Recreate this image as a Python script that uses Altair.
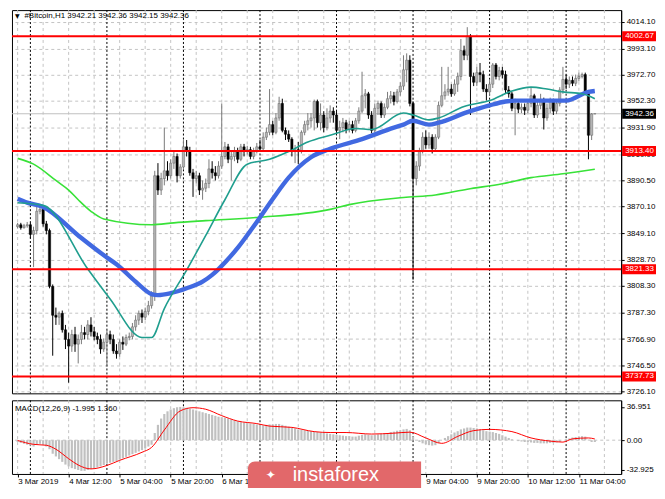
import altair as alt
import pandas as pd

# ---------------- data ----------------
bar_open = [
3854.4, 3855.9, 3853.6, 3855.1, 3855.9, 3848.4, 3851.4, 3866.4, 3867.9, 3856.6,
3851.4, 3807.9, 3785.4, 3783.9, 3786.9, 3774.1, 3766.6, 3761.4, 3770.4, 3762.9,
3766.6, 3771.9, 3770.4, 3777.9, 3772.6, 3768.9, 3766.6, 3759.1, 3764.4, 3770.4,
3766.6, 3757.6, 3755.4, 3764.4, 3762.9, 3768.1, 3768.9, 3776.4, 3781.6, 3786.9,
3783.9, 3788.4, 3792.9, 3800.4, 3894.1, 3882.9, 3891.9, 3897.9, 3894.1, 3903.9,
3909.1, 3894.1, 3900.9, 3916.6, 3912.9, 3896.4, 3891.9, 3894.1, 3882.9, 3884.4,
3888.1, 3899.4, 3896.4, 3894.1, 3901.6, 3909.1, 3916.6, 3906.9, 3909.1, 3912.9,
3906.9, 3916.6, 3912.9, 3914.4, 3909.1, 3912.9, 3916.6, 3915.1, 3924.1, 3927.9,
3933.9, 3927.9, 3939.1, 3950.4, 3929.4, 3926.4, 3922.6, 3912.9, 3914.4, 3912.9,
3927.9, 3933.9, 3936.9, 3939.1, 3951.9, 3935.4, 3941.4, 3931.6, 3939.1, 3944.4,
3941.4, 3929.4, 3931.6, 3935.4, 3930.1, 3933.9, 3929.4, 3936.9, 3944.4, 3956.4,
3957.9, 3941.4, 3929.4, 3946.6, 3950.4, 3941.4, 3947.4, 3954.1, 3956.4, 3951.9,
3959.4, 3963.9, 3976.6, 3984.1, 3950.4, 3891.9, 3901.6, 3912.9, 3924.1, 3918.1,
3924.1, 3915.1, 3924.1, 3948.9, 3956.4, 3959.4, 3961.6, 3957.9, 3965.4, 3971.4,
3991.6, 3987.9, 4002.9, 3971.4, 3966.9, 3974.4, 3972.9, 3961.6, 3959.4, 3965.4,
3980.4, 3971.4, 3975.9, 3972.9, 3960.9, 3957.9, 3946.6, 3950.4, 3945.9, 3947.4,
3945.1, 3950.4, 3956.4, 3941.4, 3948.9, 3953.4, 3939.1, 3946.6, 3952.6, 3944.4,
3950.4, 3960.9, 3969.1, 3965.4, 3968.4, 3966.1, 3969.9, 3971.4, 3972.9, 3959.4,
3925.6, 3942.21]

bar_high = [
3857.4, 3857.4, 3856.6, 3858.1, 3857.4, 3854.4, 3870.1, 3870.9, 3869.4, 3858.9,
3852.9, 3809.4, 3791.4, 3788.4, 3789.1, 3777.9, 3771.9, 3774.1, 3776.4, 3770.4,
3777.9, 3776.4, 3781.6, 3783.9, 3776.4, 3771.9, 3770.4, 3767.4, 3774.1, 3773.4,
3770.4, 3762.9, 3766.6, 3768.9, 3770.4, 3771.9, 3779.4, 3785.4, 3789.1, 3789.9,
3791.4, 3796.6, 3804.1, 3897.9, 3903.9, 3896.4, 3931.6, 3905.4, 3906.9, 3912.9,
3911.4, 3903.1, 3921.9, 3921.9, 3916.6, 3899.4, 3897.9, 3896.4, 3890.4, 3891.9,
3906.9, 3905.4, 3901.6, 3905.4, 3950.4, 3920.4, 3918.9, 3912.9, 3916.6, 3915.9,
3918.9, 3918.9, 3917.4, 3916.6, 3915.9, 3919.6, 3921.9, 3927.9, 3931.6, 3961.6,
3936.9, 3942.9, 3955.6, 3954.1, 3931.6, 3929.4, 3924.1, 3918.1, 3920.4, 3929.4,
3936.9, 3942.9, 3942.9, 3953.4, 3953.4, 3950.4, 3944.4, 3946.6, 3948.9, 3947.4,
3944.4, 3936.9, 3939.1, 3937.6, 3936.9, 3936.9, 3939.1, 3947.4, 3975.1, 3961.6,
3959.4, 3944.4, 3950.4, 3952.6, 3951.9, 3950.4, 3959.4, 3960.1, 3959.4, 3961.6,
3966.9, 3987.9, 3989.4, 3987.9, 3951.9, 3905.4, 3915.9, 3927.9, 3929.4, 3927.9,
3926.4, 3926.4, 3951.9, 3978.9, 3965.4, 3978.9, 3965.4, 3969.1, 3974.4, 4000.6,
3995.4, 4009.8, 4004.4, 3974.4, 3978.9, 3981.9, 3975.9, 3965.4, 3969.1, 3981.9,
3981.9, 3978.9, 3978.9, 3975.9, 3963.9, 3959.4, 3954.1, 3952.6, 3950.4, 3950.4,
3953.4, 3962.4, 3957.9, 3951.9, 3957.9, 3954.9, 3950.4, 3954.9, 3954.1, 3953.4,
3963.1, 3978.9, 3972.9, 3971.4, 3971.4, 3972.9, 3974.4, 3974.4, 3974.4, 3960.9,
3942.9, 3942.36]

bar_low = [
3852.9, 3852.1, 3852.9, 3853.6, 3845.4, 3822.9, 3848.4, 3864.1, 3854.4, 3848.4,
3806.4, 3753.9, 3777.9, 3777.9, 3771.9, 3759.1, 3732.9, 3756.9, 3756.9, 3747.9,
3762.9, 3766.6, 3766.6, 3768.9, 3765.9, 3762.9, 3755.4, 3756.9, 3745.6, 3762.9,
3755.4, 3751.6, 3753.1, 3758.4, 3761.4, 3765.9, 3766.6, 3773.4, 3777.9, 3779.4,
3781.6, 3785.4, 3790.6, 3796.6, 3879.1, 3879.1, 3886.6, 3890.4, 3891.9, 3899.4,
3888.9, 3891.9, 3899.4, 3909.1, 3894.1, 3877.6, 3888.1, 3879.1, 3875.4, 3881.4,
3884.4, 3891.9, 3890.4, 3891.9, 3899.4, 3906.9, 3903.9, 3890.4, 3905.4, 3903.9,
3905.4, 3909.1, 3910.6, 3906.9, 3906.9, 3911.4, 3912.9, 3912.9, 3921.9, 3925.6,
3925.6, 3926.4, 3936.9, 3927.9, 3921.9, 3920.4, 3909.1, 3903.9, 3903.1, 3911.4,
3925.6, 3929.4, 3931.6, 3929.4, 3931.6, 3929.4, 3927.9, 3929.4, 3935.4, 3935.4,
3926.4, 3922.6, 3927.9, 3927.1, 3927.9, 3927.1, 3927.9, 3934.6, 3942.9, 3946.6,
3938.4, 3927.1, 3927.9, 3941.4, 3939.1, 3939.1, 3945.9, 3950.4, 3948.9, 3950.4,
3956.4, 3960.9, 3966.9, 3948.1, 3813.1, 3886.6, 3897.9, 3911.4, 3915.1, 3915.1,
3911.4, 3912.9, 3922.6, 3947.4, 3953.4, 3956.4, 3955.6, 3956.4, 3959.4, 3968.4,
3984.1, 3984.1, 3941.4, 3963.9, 3963.9, 3966.9, 3959.4, 3952.6, 3956.4, 3962.4,
3969.1, 3968.4, 3969.9, 3957.9, 3954.9, 3944.4, 3925.6, 3942.9, 3942.9, 3941.4,
3942.9, 3947.4, 3939.1, 3939.1, 3945.9, 3930.1, 3936.9, 3942.9, 3941.4, 3942.1,
3948.1, 3957.9, 3961.6, 3962.4, 3963.9, 3963.9, 3967.6, 3969.9, 3957.9, 3906.9,
3921.9, 3942.15]

bar_close = [
3855.9, 3853.6, 3855.1, 3855.9, 3848.4, 3851.4, 3866.4, 3867.9, 3856.6, 3851.4,
3807.9, 3785.4, 3783.9, 3786.9, 3774.1, 3766.6, 3761.4, 3770.4, 3762.9, 3766.6,
3771.9, 3770.4, 3777.9, 3772.6, 3768.9, 3766.6, 3759.1, 3764.4, 3770.4, 3766.6,
3757.6, 3755.4, 3764.4, 3762.9, 3768.1, 3768.9, 3776.4, 3781.6, 3786.9, 3783.9,
3788.4, 3792.9, 3800.4, 3894.1, 3882.9, 3891.9, 3897.9, 3894.1, 3903.9, 3909.1,
3894.1, 3900.9, 3916.6, 3912.9, 3896.4, 3891.9, 3894.1, 3882.9, 3884.4, 3888.1,
3899.4, 3896.4, 3894.1, 3901.6, 3909.1, 3916.6, 3906.9, 3909.1, 3912.9, 3906.9,
3916.6, 3912.9, 3914.4, 3909.1, 3912.9, 3916.6, 3915.1, 3924.1, 3927.9, 3933.9,
3927.9, 3939.1, 3950.4, 3929.4, 3926.4, 3922.6, 3912.9, 3914.4, 3912.9, 3927.9,
3933.9, 3936.9, 3939.1, 3951.9, 3935.4, 3941.4, 3931.6, 3939.1, 3944.4, 3941.4,
3929.4, 3931.6, 3935.4, 3930.1, 3933.9, 3929.4, 3936.9, 3944.4, 3956.4, 3957.9,
3941.4, 3929.4, 3946.6, 3950.4, 3941.4, 3947.4, 3954.1, 3956.4, 3951.9, 3959.4,
3963.9, 3976.6, 3984.1, 3950.4, 3891.9, 3901.6, 3912.9, 3924.1, 3918.1, 3924.1,
3915.1, 3924.1, 3948.9, 3956.4, 3959.4, 3961.6, 3957.9, 3965.4, 3971.4, 3991.6,
3987.9, 4002.9, 3971.4, 3966.9, 3974.4, 3972.9, 3961.6, 3959.4, 3965.4, 3980.4,
3971.4, 3975.9, 3972.9, 3960.9, 3957.9, 3946.6, 3950.4, 3945.9, 3947.4, 3945.1,
3950.4, 3956.4, 3941.4, 3948.9, 3953.4, 3939.1, 3946.6, 3952.6, 3944.4, 3950.4,
3960.9, 3969.1, 3965.4, 3968.4, 3966.1, 3969.9, 3971.4, 3972.9, 3959.4, 3925.6,
3942.2, 3942.36]

# moving averages, read at sample bars
blue_bar = [0, 3, 8, 19, 28, 31, 37, 42, 44, 48, 53, 58, 61, 63, 69, 75, 80, 85, 92, 98,
            108, 118, 121, 124, 129, 132, 141, 148, 153, 156, 164, 172, 179, 181]
blue_val = [3876.1, 3873.1, 3869.8, 3847.6, 3830.4, 3825.1, 3811.6, 3801.9, 3801.1, 3802.6,
            3806.4, 3811.6, 3816.9, 3821.4, 3837.9, 3858.1, 3876.0, 3892.6, 3908.5, 3915.1,
            3922.6, 3931.6, 3933.9, 3936.9, 3933.9, 3935.4, 3943.6, 3948.9, 3951.9, 3952.6,
            3952.6, 3952.6, 3959.4, 3960.1]
teal_bar = [0, 8, 22, 29, 39, 42, 46, 53, 59, 65, 72, 79, 85, 91, 98, 106, 111, 121, 124, 129,
            132, 140, 148, 155, 161, 166, 171, 177, 181]
teal_val = [3873.1, 3871.0, 3821.4, 3798.1, 3768.1, 3768.1, 3790.6, 3820.6, 3847.6, 3875.4,
            3903.1, 3906.9, 3912.9, 3920.4, 3925.6, 3930.9, 3930.1, 3942.9, 3941.4, 3937.6,
            3939.1, 3948.1, 3952.6, 3960.1, 3963.1, 3961.6, 3959.4, 3957.9, 3954.1]
green_bar = [0, 5, 12, 16, 19, 23, 27, 42, 49, 59, 75, 98, 104, 121, 131, 141, 152, 161, 171, 181]
green_val = [3907.6, 3903.1, 3890.4, 3882.9, 3875.4, 3866.4, 3860.4, 3855.9, 3857.4, 3859.1,
             3861.6, 3867.9, 3871.6, 3877.1, 3879.1, 3883.6, 3887.9, 3892.6, 3895.6, 3899.1]

# MACD(12,26,9): main values per bar (histogram) and signal line samples
macd_hist = [
-2, -3, -4, -5, -6, -7, -5, -4, -5, -7,
-10, -15, -18, -21, -24, -27, -29, -31, -32, -33,
-34, -34, -33, -32, -31, -30, -29, -27.5, -26, -25,
-24, -23, -21.5, -20, -18.5, -17, -15.5, -14, -12.5, -11,
-9, -7, -5, 8, 17, 24, 29, 32, 34, 35.5,
36.5, 36.9, 36.5, 36, 35, 34, 33, 32, 31, 30,
29, 28, 27, 26, 25.5, 25, 24, 23, 22, 21,
20, 19.5, 19, 18.5, 18, 17.5, 17, 16.5, 17, 17.5,
17.5, 18, 18, 17, 16, 15, 14, 13, 12, 11.5,
11, 10.5, 10, 9.5, 9, 8.5, 8, 7.5, 7, 6.5,
6, 5.5, 5, 4.5, 4.5, 4, 4, 5, 6, 6.5,
6, 5.5, 6, 6.5, 7, 7.5, 8, 9, 9.5, 10.5,
11, 12, 12.5, 11, 4, 0, -2, -3.5, -4.5, -5.5,
-6, -5.5, -3, 0, 2.5, 4.5, 6.5, 8.5, 10, 12,
13, 14, 14, 13.5, 13, 12, 11, 10, 9.5, 9,
8, 7, 5.5, 4, 2.5, 1, 0, -1, -1.5, -2,
-2, -2.5, -3, -3, -3.5, -3.5, -3.5, -3, -3, -2.5,
-2, 0, 1, 2, 3, 3.5, 4, 4.5, 4, 0.5,
-2.0, -1.995]
signal_bar = [0, 5, 9, 12, 16, 19, 23, 28, 32, 39, 42, 46, 51, 55, 59, 64, 69, 75, 79, 86,
              93, 98, 103, 111, 118, 123, 128, 133, 138, 143, 148, 155, 161, 167, 171, 174, 179, 181]
signal_val = [-0.3, -4.6, -5.6, -10, -20.5, -27.5, -31.8, -28, -22.3, -13.4, -8, 11.3, 32.5, 36,
              34.3, 27.2, 21.2, 18.4, 15.6, 14.2, 9.5, 8.5, 8.5, 6.8, 7.8, 8.9, 2.5, -3.5, 4.2,
              10.6, 12, 9.5, 2.5, -1, -2.1, 1.5, 2.5, 1.36]

level_prices = [4002.67, 3913.40, 3821.33, 3737.73]
bid_price = [3942.36]
price_ticks = [4014.10, 3993.10, 3972.70, 3952.30, 3931.90, 3910.90, 3890.50, 3870.10,
               3849.10, 3828.70, 3808.30, 3787.30, 3766.90, 3746.50, 3726.10]
macd_ticks = [36.951, 0.0, -32.925]
# time labels visible in the picture (those under the logo are not drawn)
time_tick_bars = [0, 16, 32, 48, 64, 128, 144, 160, 176]
time_tick_labels = ["3 Mar 2019", "4 Mar 12:00", "5 Mar 04:00", "5 Mar 20:00", "6 Mar 12:00",
                    "9 Mar 04:00", "9 Mar 20:00", "10 Mar 12:00", "11 Mar 04:00"]
day_start_bars = [4, 28, 52, 76, 100, 124, 148, 172]
grid_bars = [0, 8, 16, 24, 32, 40, 48, 56, 64, 72, 80, 88, 96, 104, 112, 120, 128, 136,
             144, 152, 160, 168, 176, 184]
title_text = "#Bitcoin,H1  3942.21 3942.36 3942.15 3942.36"
macd_text = "MACD(12,26,9) -1.995 1.360"

# ---------------- layout ----------------
W = 612
H_MAIN = 385
H_MACD = 74
X_DOM = [-0.21, 187.7]
P_DOM = [3724.6, 4023.1]
M_DOM = [-37.4, 44.2]
FONT = "Liberation Sans"
GRID = "#c4c4c4"

xs = alt.Scale(domain=X_DOM, nice=False, zero=False)
ps = alt.Scale(domain=P_DOM, nice=False, zero=False)
ms = alt.Scale(domain=M_DOM, nice=False, zero=False)

candles = pd.DataFrame({"i": list(range(len(bar_close))), "o": bar_open, "h": bar_high,
                        "l": bar_low, "c": bar_close})
candles["lo"] = candles[["o", "c"]].min(axis=1)
candles["hi"] = candles[["o", "c"]].max(axis=1)
is_up = "datum.c >= datum.o"

grid_df = pd.DataFrame({"b": grid_bars})
day_df = pd.DataFrame({"b": day_start_bars})
one = pd.DataFrame({"k": [0]})

yaxis = alt.Axis(orient="right", values=price_ticks, format=".2f", title=None, grid=True,
                 gridColor=GRID, gridDash=[3, 3], tickSize=3, tickColor="#000",
                 domainColor="#000", labelPadding=2, labelFont=FONT, labelFontSize=8,
                 labelColor="#000", labelOverlap=False)

def PX(field):
    return alt.X(field, scale=xs, axis=None)

def PY(field):
    return alt.Y(field, scale=ps, axis=yaxis)

vgrid_main = alt.Chart(grid_df).mark_rule(color=GRID, strokeDash=[3, 3]).encode(
    x=PX("b:Q"), y=alt.value(0), y2=alt.value(H_MAIN))
days_main = alt.Chart(day_df).mark_rule(color="#000000", strokeDash=[2, 2]).encode(
    x=PX("b:Q"), y=alt.value(0), y2=alt.value(H_MAIN))
bid_line = alt.Chart(pd.DataFrame({"p": bid_price})).mark_rule(color="#c0c0c0").encode(
    y=PY("p:Q"))

wicks = alt.Chart(candles).mark_rule(strokeWidth=1).encode(
    x=PX("i:Q"), y=PY("l:Q"), y2="h:Q",
    color=alt.condition(is_up, alt.value("#7a7a7a"), alt.value("#000000")))
bodies = alt.Chart(candles).mark_bar(size=2.3, strokeWidth=0.5).encode(
    x=PX("i:Q"), y=PY("lo:Q"), y2="hi:Q",
    color=alt.condition(is_up, alt.value("#b4b4b4"), alt.value("#000000")),
    stroke=alt.condition(is_up, alt.value("#666666"), alt.value("#000000")))

def ma_line(bars, vals, color, width):
    df = pd.DataFrame({"i": bars, "p": vals})
    return alt.Chart(df).mark_line(color=color, strokeWidth=width, interpolate="monotone").encode(
        x=PX("i:Q"), y=PY("p:Q"))

green = ma_line(green_bar, green_val, "#38e238", 1.6)
blue = ma_line(blue_bar, blue_val, "#4169e1", 4.4)
teal = ma_line(teal_bar, teal_val, "#1f9e8e", 1.6)

levels_df = pd.DataFrame({"p": level_prices})
red_lines = alt.Chart(levels_df).mark_rule(color="#ff0000", strokeWidth=2).encode(y=PY("p:Q"))

HALF = 3.9
red_boxes = alt.Chart(levels_df).transform_calculate(
    top=f"datum.p + {HALF}", bot=f"datum.p - {HALF}").mark_rect(color="#ff0000").encode(
    x=alt.value(W + 1), x2=alt.value(W + 35), y=PY("top:Q"), y2="bot:Q")
red_text = alt.Chart(levels_df).mark_text(align="left", baseline="middle", color="white",
                                          font=FONT, fontSize=8).encode(
    x=alt.value(W + 4), y=PY("p:Q"), text=alt.Text("p:Q", format=".2f"))
bid_df = pd.DataFrame({"p": bid_price})
bid_box = alt.Chart(bid_df).transform_calculate(
    top=f"datum.p + {HALF}", bot=f"datum.p - {HALF}").mark_rect(color="#000000").encode(
    x=alt.value(W + 1), x2=alt.value(W + 35), y=PY("top:Q"), y2="bot:Q")
bid_text = alt.Chart(bid_df).mark_text(align="left", baseline="middle", color="white",
                                       font=FONT, fontSize=8).encode(
    x=alt.value(W + 4), y=PY("p:Q"), text=alt.Text("p:Q", format=".2f"))

tri = alt.Chart(one).mark_text(text="▼", font="DejaVu Sans", fontSize=6, color="#000",
                               align="left", baseline="middle").encode(
    x=alt.value(3), y=alt.value(6))
title = alt.Chart(one).mark_text(text=title_text, font=FONT, fontSize=8, color="#000",
                                 align="left", baseline="middle").encode(
    x=alt.value(12.5), y=alt.value(6))

main = alt.layer(vgrid_main, days_main, bid_line, wicks, bodies, green, blue, teal,
                 red_lines, red_boxes, red_text, bid_box, bid_text, tri, title).properties(
    width=W, height=H_MAIN)

# ---------------- MACD pane ----------------
x_label_expr = "''"
for b, lab in reversed(list(zip(time_tick_bars, time_tick_labels))):
    x_label_expr = f"datum.value == {b} ? '{lab}' : ({x_label_expr})"

xaxis = alt.Axis(values=[0, 16, 32, 48, 64, 80, 96, 112, 128, 144, 160, 176],
                 labelExpr=x_label_expr, title=None, grid=False,
                 domain=False, tickSize=3, tickColor="#000", labelAlign="left",
                 labelBaseline="top", labelPadding=1, labelFont=FONT, labelFontSize=8,
                 labelColor="#000", labelOverlap=False, labelBound=False, labelFlush=False)
maxis = alt.Axis(orient="right", values=macd_ticks, title=None, grid=False, tickSize=3,
                 tickColor="#000", domainColor="#000", labelPadding=2, labelFont=FONT,
                 labelFontSize=8, labelColor="#000", labelOverlap=False,
                 labelExpr="datum.value == 0 ? '0.00' : (datum.value < 0 ? '-' + format(-datum.value, '.3f') : format(datum.value, '.3f'))")

def MX(field):
    return alt.X(field, scale=xs, axis=xaxis)

def MY(field):
    return alt.Y(field, scale=ms, axis=maxis)

hist_df = pd.DataFrame({"i": list(range(len(macd_hist))), "v": macd_hist})
hist_df["z"] = 0.0

vgrid_m = alt.Chart(grid_df).mark_rule(color=GRID, strokeDash=[3, 3]).encode(
    x=MX("b:Q"), y=alt.value(0), y2=alt.value(H_MACD))
days_m = alt.Chart(day_df).mark_rule(color="#000000", strokeDash=[2, 2]).encode(
    x=MX("b:Q"), y=alt.value(0), y2=alt.value(H_MACD))
zero_line = alt.Chart(pd.DataFrame({"z": [0.0]})).mark_rule(color=GRID, strokeDash=[3, 3]).encode(
    y=MY("z:Q"))
hist = alt.Chart(hist_df).mark_bar(size=2.2, color="#c0c0c0").encode(
    x=MX("i:Q"), y=MY("v:Q"), y2="z:Q")
signal = alt.Chart(pd.DataFrame({"i": signal_bar, "v": signal_val})).mark_line(
    color="#ff0000", strokeWidth=1, interpolate="monotone").encode(
    x=MX("i:Q"), y=MY("v:Q"))
macd_label = alt.Chart(one).mark_text(text=macd_text, font=FONT, fontSize=8, color="#000",
                                      align="left", baseline="middle").encode(
    x=alt.value(3), y=alt.value(8.5))

logo_box = alt.Chart(one).mark_rect(color="#e2686a", cornerRadiusTopLeft=7).encode(
    x=alt.value(237), x2=alt.value(411), y=alt.value(61.5), y2=alt.value(88))
logo_icon = alt.Chart(one).mark_text(text="✦", font="DejaVu Sans", fontSize=12, color="#ffffff",
                                     align="center", baseline="middle").encode(
    x=alt.value(260), y=alt.value(75))
logo_text = alt.Chart(one).mark_text(text="instaforex", font=FONT, fontSize=20, color="#ffffff",
                                     align="left", baseline="middle").encode(
    x=alt.value(282), y=alt.value(75))

macd = alt.layer(vgrid_m, days_m, zero_line, hist, signal, macd_label,
                 logo_box, logo_icon, logo_text).properties(width=W, height=H_MACD)

chart = alt.vconcat(main, macd, spacing=3).properties(
    padding={"left": 0, "top": 0, "right": 0, "bottom": 0}, background="white"
).configure_view(stroke="#000000", strokeWidth=1)

chart.save("out.html", embed_options={"renderer": "svg", "actions": False})
